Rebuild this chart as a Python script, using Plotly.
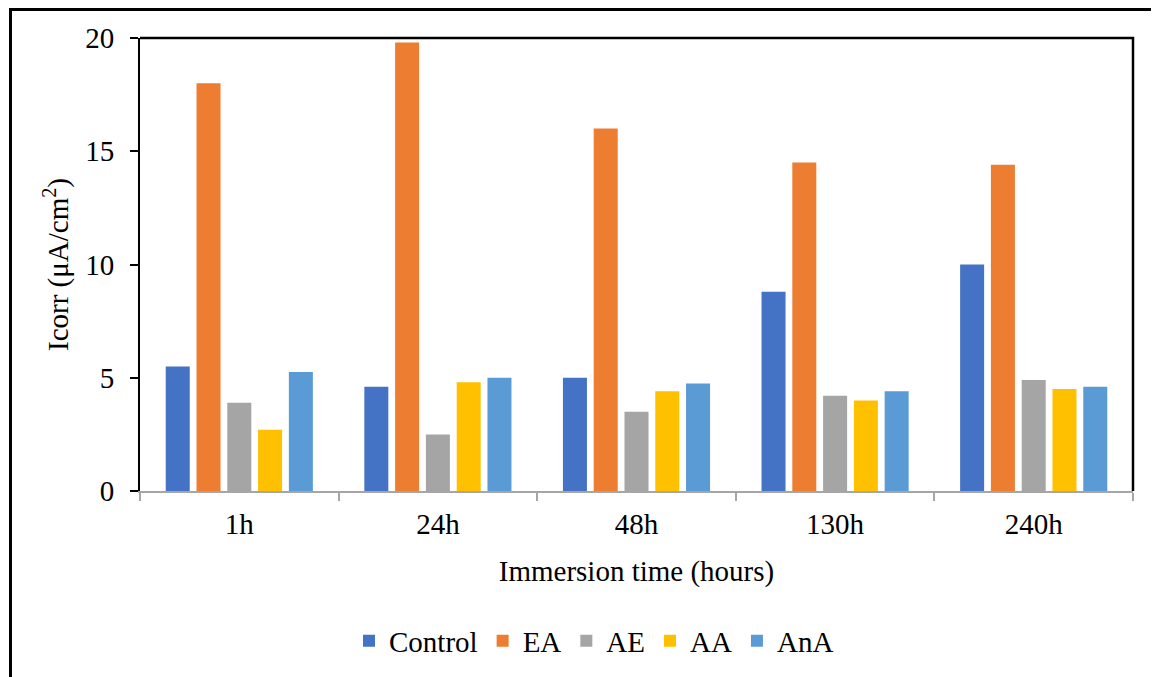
import plotly.graph_objects as go

categories = ["1h", "24h", "48h", "130h", "240h"]
control = [5.5, 4.6, 5.0, 8.8, 10.0]
ea = [18.0, 19.8, 16.0, 14.5, 14.4]
ae = [3.9, 2.5, 3.5, 4.2, 4.9]
aa = [2.7, 4.8, 4.4, 4.0, 4.5]
ana = [5.25, 5.0, 4.75, 4.4, 4.6]

series = [
    ("Control", control, "#4472C4"),
    ("EA", ea, "#ED7D31"),
    ("AE", ae, "#A5A5A5"),
    ("AA", aa, "#FFC000"),
    ("AnA", ana, "#5B9BD5"),
]

# page body has an 8px margin; compensate so the plot lands at target pixels
OFF = 8
W, H = 1159 - OFF, 677 - OFF
L, R, T, B = 140 - OFF, 1133 - OFF, 38 - OFF, 491 - OFF

fig = go.Figure()
for name, vals, col in series:
    fig.add_trace(go.Bar(name=name, x=categories, y=vals, marker_color=col,
                         marker_line_width=0))

font = "Liberation Serif, Times New Roman, serif"
FS = 29

def px_x(p):
    return (p - OFF - L) / (R - L)

def px_y(p):
    return (B - (p - OFF)) / (B - T)

fig.update_layout(
    width=W, height=H,
    margin=dict(l=L, r=W - R, t=T, b=H - B, autoexpand=False),
    paper_bgcolor="white", plot_bgcolor="white",
    barmode="group", bargap=0.225, bargroupgap=0.22,
    font=dict(family=font, size=FS, color="black"),
    showlegend=True,
    legend=dict(orientation="h", x=px_x(349), xanchor="left",
                y=px_y(641), yanchor="middle",
                font=dict(family=font, size=FS, color="black"),
                itemsizing="constant", traceorder="normal"),
    xaxis=dict(
        showline=True, linecolor="#A6A6A6", linewidth=2,
        ticks="outside", tickson="boundaries", ticklen=8, tickcolor="#A6A6A6",
        tickwidth=2, showgrid=False, zeroline=False,
        tickfont=dict(family=font, size=FS, color="black"),
        title=dict(text="Immersion time (hours)", standoff=22,
                   font=dict(family=font, size=FS, color="black")),
        ticklabelstandoff=6,
    ),
    yaxis=dict(
        range=[0, 20], tickvals=[0, 5, 10, 15, 20],
        showline=True, linecolor="black", linewidth=2,
        ticks="outside", ticklen=8, tickcolor="black", tickwidth=2,
        showgrid=False, zeroline=False,
        tickfont=dict(family=font, size=FS, color="black"),
        ticklabelstandoff=10,
        title=dict(text="Icorr (μA/cm<sup>2</sup>)", standoff=8,
                   font=dict(family=font, size=FS, color="black")),
    ),
    shapes=[
        # plot area top and right border
        dict(type="path", xref="paper", yref="paper",
             path="M 0,1 L 1,1 L 1,0", line=dict(color="black", width=2.5)),
        # outer frame (cropped)
        dict(type="path", xref="paper", yref="paper",
             path=f"M {px_x(10.5)},{px_y(720)} L {px_x(10.5)},{px_y(9.5)} L {px_x(1175)},{px_y(9.5)}",
             line=dict(color="black", width=3)),
    ],
)

fig.write_html("out.html")
